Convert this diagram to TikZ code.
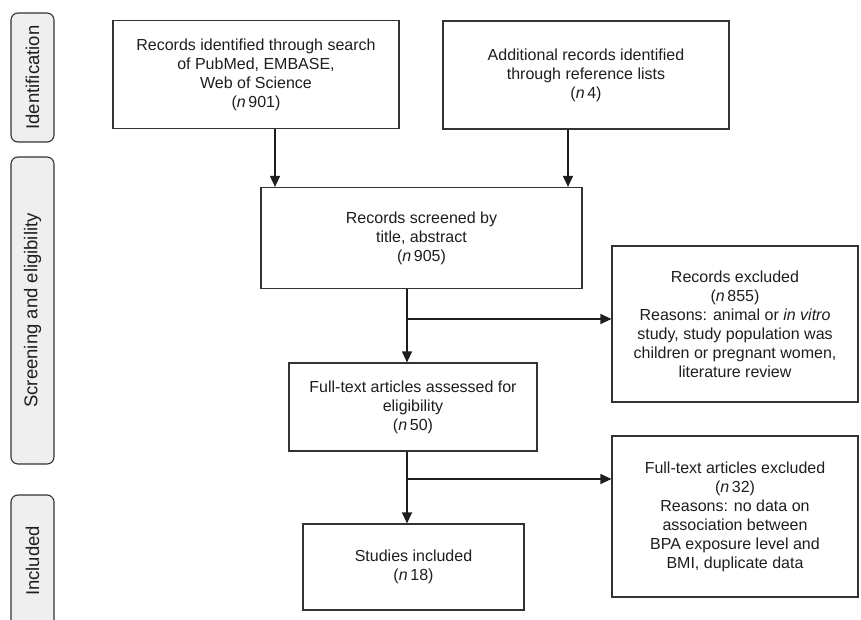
\documentclass[tikz,border=0pt]{standalone}
\usepackage{fontspec}
\setmainfont{Liberation Sans}
\usetikzlibrary{arrows.meta}
\definecolor{boxline}{HTML}{333333}
\definecolor{labfill}{HTML}{EFEFEF}
\definecolor{txt}{HTML}{1E1E1E}
\begin{document}
\begin{tikzpicture}[x=1pt,y=-1pt,
  box/.style={draw=boxline, line width=1.2pt, rectangle, inner sep=0pt, align=center, font=\fontsize{16}{19}\selectfont, text=txt},
  sidelab/.style={draw=boxline, fill=labfill, line width=1.1pt, rounded corners=7pt, rotate=90, inner sep=0pt, minimum height=43pt, font=\fontsize{18.5}{20}\selectfont, text=txt},
  arr/.style={draw=txt, line width=1.2pt, -{Triangle[length=11pt,width=10pt]}}]
\useasboundingbox (0,0) rectangle (861,620);
% side labels
\node[sidelab, minimum width=129pt] (idl) at (32.5,77.5) {Identification};
\node[sidelab, minimum width=307pt] (scl) at (32.5,310.5) {Screening and eligibility};
\node[sidelab, minimum width=132pt] (inl) at (32.5,561) {Included};
% boxes
\node[box, minimum width=286pt, minimum height=108pt] (A) at (256,74.5)
  {Records identified through search\\of PubMed, EMBASE,\\Web of Science\\(\textit{n}\,901)};
\node[box, minimum width=286pt, minimum height=108pt] (B) at (586,75)
  {Additional records identified\\through reference lists\\(\textit{n}\,4)};
\node[box, minimum width=321pt, minimum height=101pt] (C) at (421.5,238)
  {Records screened by\\title, abstract\\(\textit{n}\,905)};
\node[box, minimum width=248pt, minimum height=88pt] (D) at (413,407)
  {Full-text articles assessed for\\eligibility\\(\textit{n}\,50)};
\node[box, minimum width=246pt, minimum height=156pt] (E) at (735,324)
  {Records excluded\\(\textit{n}\,855)\\Reasons: animal or \textit{in vitro}\\study, study population was\\children or pregnant women,\\literature review};
\node[box, minimum width=246pt, minimum height=161pt] (F) at (735,516.5)
  {Full-text articles excluded\\(\textit{n}\,32)\\Reasons: no data on\\association between\\BPA exposure level and\\BMI, duplicate data};
\node[box, minimum width=221pt, minimum height=86pt] (G) at (413.5,567)
  {Studies included\\(\textit{n}\,18)};
% connector helpers
\coordinate (ax) at (275,0);
\coordinate (bx) at (568,0);
\coordinate (vx) at (407,0);
\coordinate (br1) at (407,319);
\coordinate (br2) at (407,479);
% connectors
\draw[arr] (A.south -| ax) -- (C.north -| ax);
\draw[arr] (B.south -| bx) -- (C.north -| bx);
\draw[arr] (C.south -| vx) -- (D.north -| vx);
\draw[arr] (br1) -- (E.west |- br1);
\draw[arr] (D.south -| vx) -- (G.north -| vx);
\draw[arr] (br2) -- (F.west |- br2);
\end{tikzpicture}
\end{document}
